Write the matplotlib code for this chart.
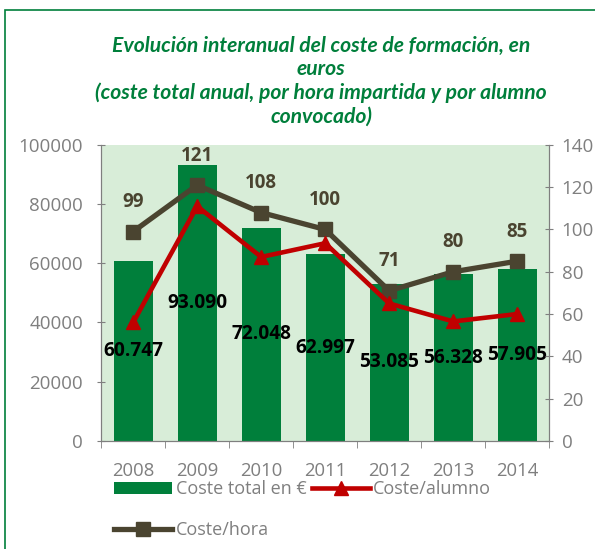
import matplotlib
matplotlib.use("Agg")
import matplotlib.pyplot as plt
from matplotlib.patches import Rectangle

# data
years = ["2008", "2009", "2010", "2011", "2012", "2013", "2014"]
coste_total = [60747, 93090, 72048, 62997, 53085, 56328, 57905]
coste_alumno = [56, 111, 87, 93.5, 65, 56.5, 60]
coste_hora = [99, 121, 108, 100, 71, 80, 85]

GREEN = "#007F3B"
BG = "#D8EDD8"
BROWN = "#4A4430"
RED = "#C00000"
GREY = "#7F7F7F"

plt.rcParams["font.family"] = ["Open Sans", "DejaVu Sans"]

fig = plt.figure(figsize=(5.95, 5.49), dpi=100)
ax = fig.add_axes([0.170, 0.197, 0.753, 0.539])
ax2 = ax.twinx()

# outer frame
fig.patches.append(Rectangle((5 / 595, -0.05), 1.1, 1 - 10 / 549 + 0.05,
                             transform=fig.transFigure, fill=False,
                             edgecolor=GREEN, lw=1.2))

x = list(range(len(years)))
ax.set_facecolor(BG)
bars = ax.bar(x, coste_total, width=0.61, color=GREEN, label="Coste total en €",
              zorder=2)
labels = [f"{v:,}".replace(",", ".") for v in coste_total]
ax.bar_label(bars, labels=labels, label_type="center", fontsize=13.8,
             fontweight="bold", color="black")

ax.set_ylim(0, 100000)
ax.set_xlim(-0.5, 6.5)
ax.set_yticks(range(0, 100001, 20000))
ax.set_xticks(x)
ax.set_xticklabels(years)
ax.set_xticks([i - 0.5 for i in range(len(years) + 1)], minor=True)
ax.tick_params(axis="x", which="major", length=0, pad=15, labelsize=13.3,
               labelcolor=GREY)
ax.tick_params(axis="x", which="minor", length=5, color=GREY)
ax.tick_params(axis="y", direction="inout", length=6, pad=10, color=GREY,
               labelsize=13.5, labelcolor=GREY)

ax2.set_ylim(0, 140)
ax2.set_yticks(range(0, 141, 20))
ax2.tick_params(axis="y", direction="inout", length=6, pad=6, color=GREY,
                labelsize=13.5, labelcolor=GREY)

for a in (ax, ax2):
    a.spines["top"].set_visible(False)
    for s in ("left", "right", "bottom"):
        a.spines[s].set_color(GREY)

l_hora, = ax2.plot(x, coste_hora, color=BROWN, lw=3.8, marker="s", ms=10,
                   label="Coste/hora", zorder=3)
l_alumno, = ax2.plot(x, coste_alumno, color=RED, lw=3.3, marker="^", ms=10.5,
                     label="Coste/alumno", zorder=4)
for xi, v in zip(x, coste_hora):
    ax2.annotate(str(v), (xi, v), xytext=(0, 14), textcoords="offset points",
                 ha="center", va="bottom", fontsize=13.5, fontweight="bold",
                 color=BROWN)

fig.text(0.54, 0.852, "Evolución interanual del coste de formación, en\neuros\n"
         "(coste total anual, por hora impartida y por alumno\nconvocado)",
         ha="center", va="center", color=GREEN, fontsize=15.2,
         fontweight="bold", style="italic", linespacing=1.2,
         family=["Lato", "DejaVu Sans"])

fig.legend([bars, l_hora, l_alumno],
           ["Coste total en €", "Coste/hora", "Coste/alumno"],
           ncol=2, loc="upper left", bbox_to_anchor=(0.18, 0.138),
           frameon=False, fontsize=13, labelcolor=GREY, handlelength=3.2,
           handletextpad=0.2, columnspacing=0.3, labelspacing=1.25,
           borderaxespad=0)

fig.savefig("out.png", dpi=100)
